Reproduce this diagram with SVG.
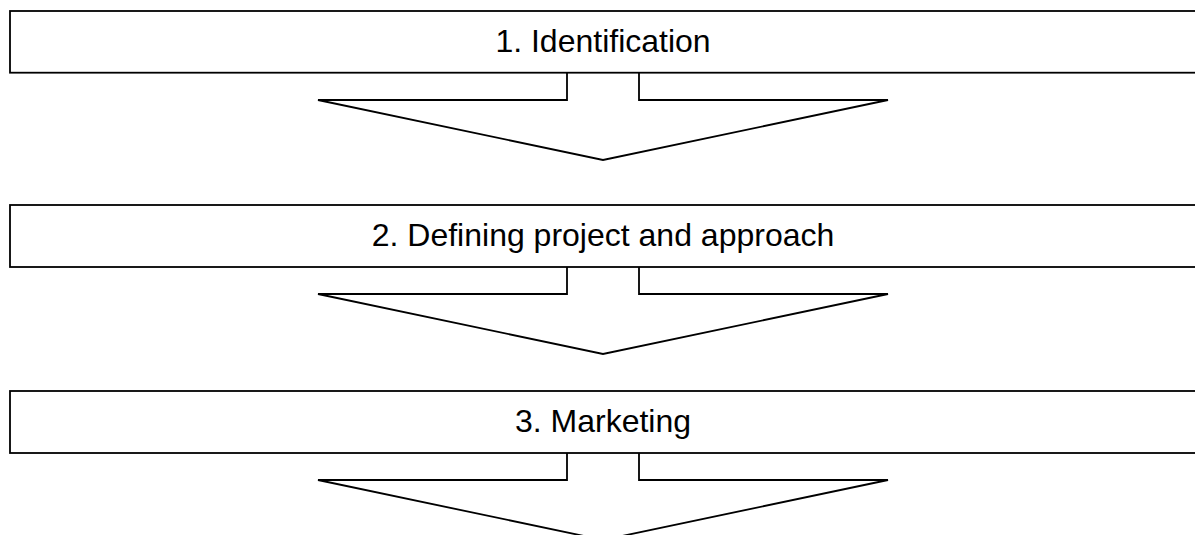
<svg xmlns="http://www.w3.org/2000/svg" width="1195" height="535" viewBox="0 0 1195 535">
<style>
.box{fill:#fff;stroke:#000;stroke-width:1.8}
.arr{fill:#fff;stroke:#000;stroke-width:1.8;stroke-linejoin:miter}
.lbl{font-family:"Liberation Sans",Arial,sans-serif;font-size:32px;fill:#000;text-anchor:middle}
</style>
<rect width="1195" height="535" fill="#fff"/>
<g id="connectors">
<polyline class="arr" points="567,72.7 567,100 318,100 603,160 888,100 639,100 639,72.7"/>
<polyline class="arr" points="567,267 567,294 318,294 603,354 888,294 639,294 639,267"/>
<polyline class="arr" points="567,453 567,480 318,480 603,540 888,480 639,480 639,453"/>
</g>
<g id="node1">
<rect class="box" x="10" y="11" width="1190" height="61.7"/>
<text class="lbl" x="603" y="52">1. Identification</text>
</g>
<g id="node2">
<rect class="box" x="10" y="205" width="1190" height="62"/>
<text class="lbl" x="603" y="246">2. Defining project and approach</text>
</g>
<g id="node3">
<rect class="box" x="10" y="391" width="1190" height="62"/>
<text class="lbl" x="603" y="432">3. Marketing</text>
</g>
</svg>
